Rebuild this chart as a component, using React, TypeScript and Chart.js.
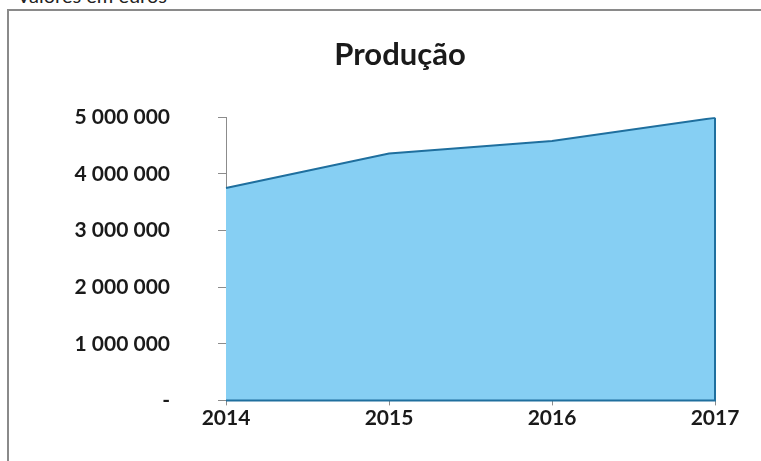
import React, { useEffect, useRef } from "react";
import { Chart, registerables } from "chart.js";

Chart.register(...registerables);

const title = "Produção";
const subtitle = "Valores em euros";
const years = ["2014", "2015", "2016", "2017"];
const production = [3750000, 4360000, 4580000, 4990000];
const yTicks = [0, 1000000, 2000000, 3000000, 4000000, 5000000];

const FILL = "#86CFF3";
const LINE = "#1F6F9E";
const AXIS = "#8C8C8C";
const FONT = "Lato, 'Open Sans', sans-serif";

function fmt(v: number): string {
  if (v === 0) return "-";
  return Math.round(v)
    .toString()
    .replace(/\B(?=(\d{3})+(?!\d))/g, " ");
}

const outlinePlugin = {
  id: "areaOutline",
  afterLayout(chart: any) {
    const t = chart.titleBlock;
    if (t) {
      t.left = 85;
      t.right = chart.chartArea.right;
      t.width = t.right - t.left;
    }
  },
  afterDatasetsDraw(chart: any) {
    const meta = chart.getDatasetMeta(0);
    const pts = meta.data;
    if (!pts || !pts.length) return;
    const y0 = chart.scales.y.getPixelForValue(0);
    const last = pts[pts.length - 1];
    const first = pts[0];
    const ctx = chart.ctx;
    ctx.save();
    ctx.strokeStyle = LINE;
    ctx.lineWidth = 2;
    ctx.beginPath();
    ctx.moveTo(last.x, last.y);
    ctx.lineTo(last.x, y0);
    ctx.lineTo(first.x, y0);
    ctx.stroke();
    ctx.restore();
  },
};

export default function App() {
  const ref = useRef<HTMLCanvasElement | null>(null);

  useEffect(() => {
    if (!ref.current) return;
    const chart = new Chart(ref.current, {
      type: "line",
      data: {
        labels: years,
        datasets: [
          {
            label: title,
            data: production,
            fill: "origin",
            backgroundColor: FILL,
            borderColor: LINE,
            borderWidth: 2,
            pointRadius: 0,
            tension: 0,
          },
        ],
      },
      options: {
        animation: false,
        responsive: false,
        maintainAspectRatio: false,
        layout: { padding: { left: 0, right: 46, top: 0, bottom: 0 } },
        plugins: {
          legend: { display: false },
          tooltip: { enabled: false },
          title: {
            display: true,
            text: title,
            color: "#1a1a1a",
            font: { family: FONT, size: 31, weight: "bold" },
            padding: { top: 36, bottom: 44 },
          },
        },
        scales: {
          x: {
            offset: false,
            grid: {
              display: true,
              drawOnChartArea: false,
              drawTicks: true,
              tickLength: 5,
              color: AXIS,
            },
            border: { display: true, color: AXIS },
            ticks: {
              color: "#1a1a1a",
              font: { family: FONT, size: 21, weight: "bold" },
              padding: 0,
              maxRotation: 0,
            },
          },
          y: {
            min: 0,
            max: 5000000,
            afterBuildTicks(scale: any) {
              scale.ticks = yTicks.map((v) => ({ value: v }));
            },
            afterFit(scale: any) {
              scale.width = 226;
            },
            grid: {
              display: true,
              drawOnChartArea: false,
              drawTicks: true,
              tickLength: 8,
              color: AXIS,
            },
            border: { display: true, color: AXIS },
            ticks: {
              color: "#1a1a1a",
              font: { family: FONT, size: 21, weight: "bold" },
              padding: 48,
              callback: (v: any) => fmt(Number(v)),
            },
          },
        },
      },
      plugins: [outlinePlugin],
    });
    return () => chart.destroy();
  }, []);

  return (
    <div
      style={{
        position: "absolute",
        left: 0,
        top: 0,
        width: 761,
        height: 461,
        overflow: "hidden",
        background: "#fff",
      }}
    >
      <div
        style={{
          position: "absolute",
          left: 17,
          top: -17,
          fontFamily: "Lato, sans-serif",
          fontSize: 20,
          color: "#222",
          whiteSpace: "nowrap",
        }}
      >
        {subtitle}
      </div>
      <div
        style={{
          position: "absolute",
          left: 7,
          top: 9,
          width: 800,
          height: 500,
          borderLeft: "2px solid #8a8a8a",
          borderTop: "2px solid #8a8a8a",
        }}
      />
      <canvas
        ref={ref}
        width={761}
        height={461}
        style={{ position: "absolute", left: 0, top: 0 }}
      />
    </div>
  );
}
